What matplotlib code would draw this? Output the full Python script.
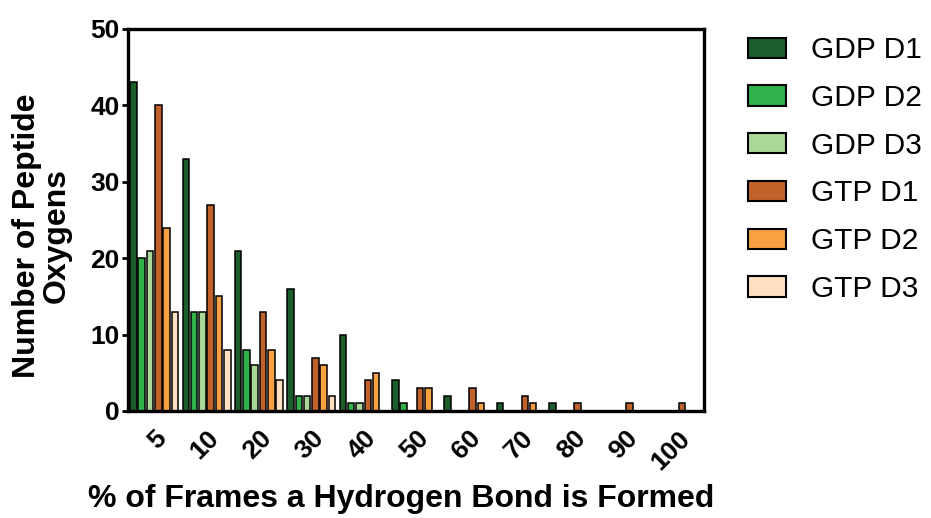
import numpy as np
import matplotlib
matplotlib.use("Agg")
import matplotlib.pyplot as plt
import matplotlib.transforms as mtransforms

# Data
categories = ["5", "10", "20", "30", "40", "50", "60", "70", "80", "90", "100"]
series_names = ["GDP D1", "GDP D2", "GDP D3", "GTP D1", "GTP D2", "GTP D3"]

gdp_d1 = [43, 33, 21, 16, 10, 4, 2, 1, 1, 0, 0]
gdp_d2 = [20, 13, 8, 2, 1, 1, 0, 0, 0, 0, 0]
gdp_d3 = [21, 13, 6, 2, 1, 0, 0, 0, 0, 0, 0]
gtp_d1 = [40, 27, 13, 7, 4, 3, 3, 2, 1, 1, 1]
gtp_d2 = [24, 15, 8, 6, 5, 3, 1, 1, 0, 0, 0]
gtp_d3 = [13, 8, 4, 2, 0, 0, 0, 0, 0, 0, 0]

colors = ["#1b5e2b", "#2fb24a", "#a9d898", "#c0622a", "#f8a143", "#fde0c1"]

plt.rcParams["font.family"] = ["Liberation Sans", "DejaVu Sans"]

fig = plt.figure(figsize=(9.31, 5.18), dpi=100)
ax = fig.add_axes([128 / 931, 107 / 518, 576 / 931, 382 / 518])

x = np.arange(len(categories))
step = 0.158
width = 0.125
all_series = [gdp_d1, gdp_d2, gdp_d3, gtp_d1, gtp_d2, gtp_d3]
for k, (vals, name, col) in enumerate(zip(all_series, series_names, colors)):
    ax.bar(x + (k - 2.5) * step, vals, width=width, color=col,
           edgecolor="black", linewidth=1.1, label=name)

ax.set_xlim(-0.5, 10.5)
ax.set_ylim(0, 50)
ax.set_yticks([0, 10, 20, 30, 40, 50])
ax.set_xticks(x)
ax.set_xticklabels(categories, rotation=45, ha="right", rotation_mode="anchor",
                   fontsize=19, fontweight="bold")
# nudge rotated labels a little to the left
shift = mtransforms.ScaledTranslation(-7 / 100, 0, fig.dpi_scale_trans)
for lab in ax.get_xticklabels():
    lab.set_transform(lab.get_transform() + shift)
for lab in ax.get_yticklabels():
    lab.set_fontsize(19)
    lab.set_fontweight("bold")
ax.tick_params(axis="x", length=0, pad=11)
ax.tick_params(axis="y", length=4, width=2, pad=2)

for sp in ax.spines.values():
    sp.set_linewidth(2.4)

ax.set_ylabel("Number of Peptide\nOxygens", fontsize=23, fontweight="bold",
              linespacing=1.0)
ax.yaxis.set_label_coords(-0.097, 0.46)
ax.set_xlabel("% of Frames a Hydrogen Bond is Formed", fontsize=23,
              fontweight="bold")
ax.xaxis.set_label_coords(0.474, -0.192)

leg = ax.legend(loc="upper left", bbox_to_anchor=(1.055, 1.012), frameon=False,
                fontsize=21.5, handlelength=1.27, handleheight=0.67,
                handletextpad=0.84, labelspacing=0.66, borderaxespad=0)
for p in leg.get_patches():
    p.set_linewidth(1.5)

fig.savefig("out.png", dpi=100)
